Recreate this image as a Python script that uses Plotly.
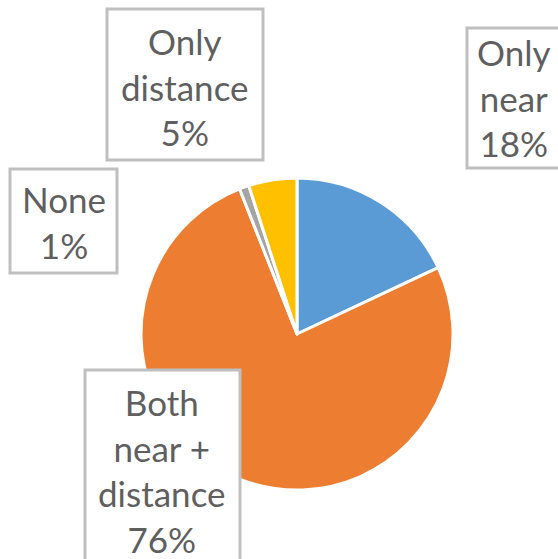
import plotly.graph_objects as go

labels = ["Only near", "Both near + distance", "None", "Only distance"]
label_lines = [["Only", "near"], ["Both", "near +", "distance"], ["None"], ["Only", "distance"]]
values = [18, 76, 1, 5]
colors = ["#5B9BD5", "#ED7D31", "#A5A5A5", "#FFC000"]

W, H = 558, 559
cx, cy, r = 297, 334, 156

fig = go.Figure(go.Pie(
    labels=labels, values=values, sort=False, direction="clockwise", rotation=0,
    marker=dict(colors=colors, line=dict(color="white", width=3)),
    textinfo="none", hoverinfo="label+percent", showlegend=False,
    domain=dict(x=[(cx - r) / W, (cx + r) / W], y=[(H - cy - r) / H, (H - cy + r) / H]),
))

# label boxes (pixel boxes: x0, y0, x1, y1) and text centers
boxes = [(467, 28, 575, 168), (85, 370, 240, 600), (10, 169, 117, 273), (107, 9, 263, 160)]
centers = [(514, 97), (162, 470), (64, 222), (185, 86)]

total = sum(values)
for lines, v, (x0, y0, x1, y1), (tx, ty) in zip(label_lines, values, boxes, centers):
    fig.add_shape(type="rect", xref="paper", yref="paper",
                  x0=x0 / W, x1=x1 / W, y0=1 - y0 / H, y1=1 - y1 / H,
                  line=dict(color="#BFBFBF", width=3), fillcolor="white", layer="above")
    txt = "<br>".join(lines + [f"{round(100 * v / total)}%"])
    fig.add_annotation(x=tx / W, y=1 - ty / H, xref="paper", yref="paper",
                       text=txt, showarrow=False, xanchor="center", yanchor="middle",
                       font=dict(family="Lato", size=35, color="#5F5F5F"))

fig.update_layout(width=W, height=H, margin=dict(l=0, r=0, t=0, b=0),
                  paper_bgcolor="white", plot_bgcolor="white")
fig.write_html("out.html", config={"displayModeBar": False},
               post_script="document.body.style.margin='0';")
